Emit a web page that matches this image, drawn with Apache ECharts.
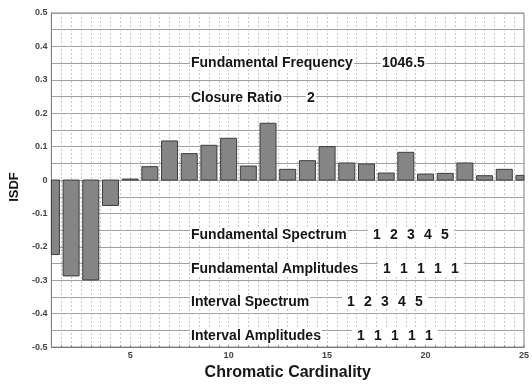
<!DOCTYPE html>
<html>
<head>
<meta charset="utf-8">
<script src="https://cdn.jsdelivr.net/npm/echarts@6/dist/echarts.min.js"></script>
<style>
  html, body { margin: 0; padding: 0; background: #fff; }
  #chart { width: 532px; height: 386px; }
</style>
</head>
<body>
<div id="chart"></div>
<script>
// chromatic cardinality 1..25 and ISDF value of each
const cardinality = [1, 2, 3, 4, 5, 6, 7, 8, 9, 10, 11, 12, 13, 14, 15, 16, 17, 18, 19, 20, 21, 22, 23, 24, 25]
const isdf = [-0.223, -0.287, -0.299, -0.076, 0.003, 0.040, 0.117, 0.079, 0.104, 0.125, 0.042, 0.170, 0.032,
  0.058, 0.100, 0.051, 0.048, 0.021, 0.083, 0.018, 0.020, 0.051, 0.013, 0.032, 0.014]
const xLabels = [5, 10, 15, 20, 25]

const fundamentalFrequency = '1046.5'
const closureRatio = '2'
const fundamentalSpectrum = [1, 2, 3, 4, 5]
const fundamentalAmplitudes = [1, 1, 1, 1, 1]
const intervalSpectrum = [1, 2, 3, 4, 5]
const intervalAmplitudes = [1, 1, 1, 1, 1]

const bold = 'bold 14px "Liberation Sans", Arial, sans-serif'
const ink = '#151515'

function label(text, x, y, pad) {
  return {
    type: 'text', z: 100, left: x, top: y - 7,
    style: { text: text, font: bold, fill: ink, backgroundColor: '#fff', padding: pad || [0, 1] }
  }
}
function digits(list, x, y) {
  return list.map((d, i) => label(String(d), x + i * 17 - 5, y, [0, 5]))
}

const myChart = echarts.init(document.getElementById('chart'))
myChart.setOption({
  animation: false,
  grid: { left: 51, top: 13, right: 6, bottom: 33, show: true, borderColor: '#7a7a7a', borderWidth: 1 },
  xAxis: {
    type: 'value',
    min: 1,
    max: 25,
    interval: 0.5,
    name: 'Chromatic Cardinality',
    nameLocation: 'middle',
    nameGap: 16,
    nameTextStyle: { fontFamily: 'Liberation Sans', fontWeight: 'bold', fontSize: 16, color: ink },
    axisLine: { onZero: false, lineStyle: { color: '#7a7a7a' } },
    axisTick: { inside: true, length: 2, lineStyle: { color: '#888' } },
    axisLabel: {
      margin: 4,
      fontSize: 9,
      fontWeight: 'bold',
      fontFamily: 'Liberation Sans',
      color: '#444',
      formatter(v) { return xLabels.indexOf(v) >= 0 ? String(v) : '' }
    },
    splitLine: { show: true, lineStyle: { color: '#c4c4c4', type: [2, 2] } }
  },
  yAxis: {
    type: 'value',
    min: -0.5,
    max: 0.5,
    interval: 0.1,
    name: 'ISDF',
    nameLocation: 'middle',
    nameGap: 28,
    nameTextStyle: { fontFamily: 'Liberation Sans', fontWeight: 'bold', fontSize: 13, color: ink, padding: [0, 14, 0, 0] },
    axisLine: { show: true, lineStyle: { color: '#7a7a7a' } },
    axisTick: { show: false },
    axisLabel: {
      margin: 4,
      fontSize: 9,
      fontWeight: 'bold',
      fontFamily: 'Liberation Sans',
      color: '#444',
      formatter(v) { return String(Math.round(v * 10) / 10) }
    },
    splitLine: { lineStyle: { color: '#a0a0a0' } },
    minorTick: { show: false, splitNumber: 2 },
    minorSplitLine: { show: true, lineStyle: { color: '#a0a0a0' } }
  },
  series: [{
    type: 'custom',
    data: cardinality.map((c, i) => [c, isdf[i]]),
    renderItem(params, api) {
      const top = api.coord([api.value(0), api.value(1)])
      const base = api.coord([api.value(0), 0])
      const w = 16
      const cs = params.coordSys
      const shape = echarts.graphic.clipRectByRect({
        x: top[0] - w / 2,
        y: Math.min(top[1], base[1]),
        width: w,
        height: Math.abs(base[1] - top[1])
      }, { x: cs.x, y: cs.y, width: cs.width, height: cs.height })
      return shape && {
        type: 'rect',
        shape: shape,
        style: { fill: '#858585', stroke: '#3c3c3c', lineWidth: 1 }
      }
    }
  }],
  graphic: [
    label('Fundamental Frequency', 190, 63),
    label(fundamentalFrequency, 381, 63),
    label('Closure Ratio', 190, 98),
    label(closureRatio, 306, 98),
    label('Fundamental Spectrum', 190, 235),
    ...digits(fundamentalSpectrum, 373, 235),
    label('Fundamental Amplitudes', 190, 269),
    ...digits(fundamentalAmplitudes, 383, 269),
    label('Interval Spectrum', 190, 302),
    ...digits(intervalSpectrum, 347, 302),
    label('Interval Amplitudes', 190, 336),
    ...digits(intervalAmplitudes, 357, 336)
  ]
})
</script>
</body>
</html>
